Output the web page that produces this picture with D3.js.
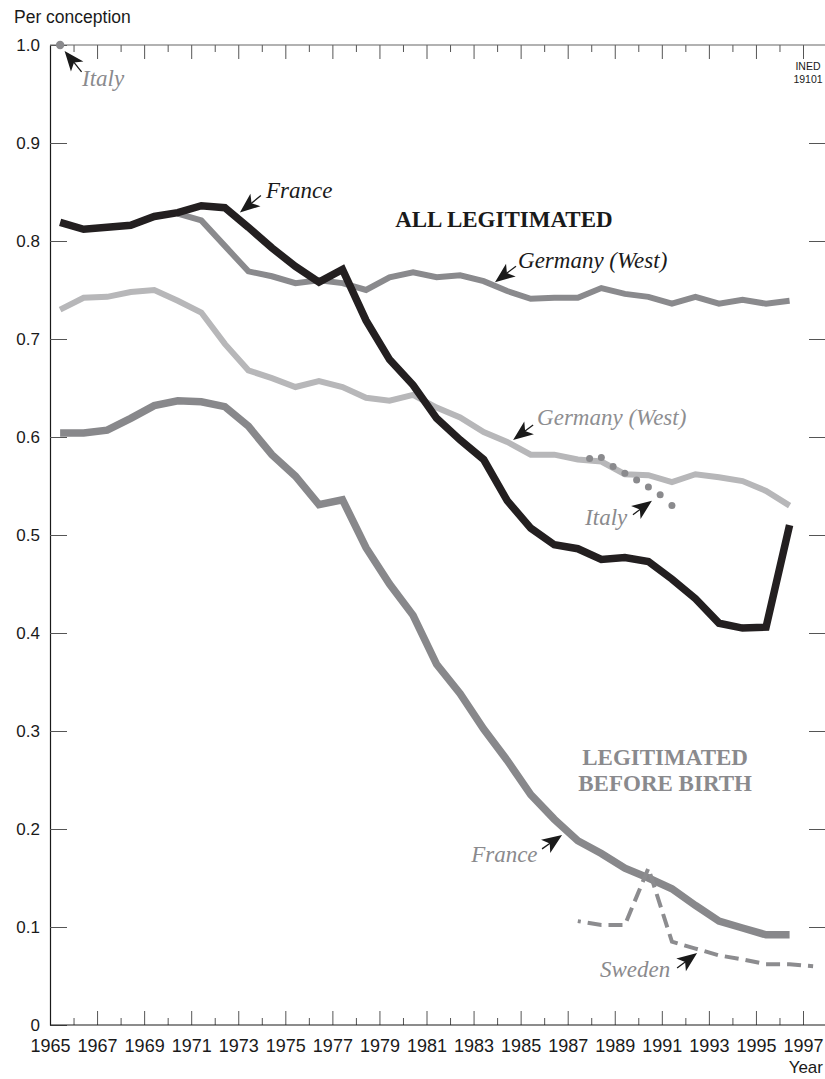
<!DOCTYPE html>
<html>
<head>
<meta charset="utf-8">
<script src="https://cdn.jsdelivr.net/npm/d3@7"></script>
<style>
  body { margin: 0; background: #fff; }
  svg { display: block; }
  text { font-family: "Liberation Sans", Arial, sans-serif; fill: #1a1a1a; }
  text.note { font-family: "Liberation Serif", "Times New Roman", serif; font-style: italic; }
  text.head { font-family: "Liberation Serif", "Times New Roman", serif; font-weight: bold; }
</style>
</head>
<body>
<svg id="chart" width="825" height="1079"></svg>
<script>
// yearly series, 1965..1996 (conceptions), values per conception
const years = d3.range(1965, 1997)

const franceAll = [0.819, 0.812, 0.814, 0.816, 0.825, 0.829, 0.836, 0.834, 0.814, 0.793,
  0.774, 0.758, 0.771, 0.719, 0.679, 0.653, 0.619, 0.597, 0.577, 0.535,
  0.507, 0.490, 0.486, 0.475, 0.477, 0.473, 0.455, 0.435, 0.410, 0.405,
  0.406, 0.510]

// west germany, all legitimated (no visible data before 1970)
const germanyAll = [null, null, null, null, null, 0.828, 0.821, 0.795, 0.769, 0.764,
  0.757, 0.760, 0.757, 0.750, 0.763, 0.768, 0.763, 0.765, 0.759, 0.749,
  0.741, 0.742, 0.742, 0.752, 0.746, 0.743, 0.736, 0.743, 0.736, 0.740,
  0.736, 0.739]

const germanyBefore = [0.730, 0.742, 0.743, 0.748, 0.750, 0.739, 0.727, 0.695, 0.668, 0.660,
  0.651, 0.657, 0.651, 0.640, 0.637, 0.643, 0.630, 0.620, 0.605, 0.595,
  0.582, 0.582, 0.577, 0.575, 0.562, 0.561, 0.554, 0.562, 0.559, 0.555,
  0.545, 0.530]

const franceBefore = [0.604, 0.604, 0.607, 0.619, 0.632, 0.637, 0.636, 0.631, 0.611, 0.582,
  0.560, 0.531, 0.536, 0.487, 0.450, 0.418, 0.368, 0.338, 0.302, 0.270,
  0.235, 0.210, 0.188, 0.175, 0.160, 0.150, 0.139, 0.122, 0.106, 0.099,
  0.092, 0.092]

const swedenYears = d3.range(1987, 1998)
const swedenBefore = [0.106, 0.102, 0.102, 0.160, 0.085, 0.078, 0.071, 0.067, 0.062, 0.062, 0.060]

// italy: one point in 1965, then a dotted stretch 1987-1991
const italyStartYear = [1965]
const italyStart = [1.0]
const italyYears = [1987.5, 1988, 1988.5, 1989, 1989.5, 1990, 1990.5, 1991]
const italyAll = [0.578, 0.579, 0.570, 0.563, 0.556, 0.549, 0.541, 0.530]

const yTicks = d3.range(0, 11).map(d => d / 10)
const xTicks = d3.range(1965, 1998)

const width = 825, height = 1079
const margin = {top: 45, left: 50, bottom: 54}
const OFFSET = 0.43 // points sit a bit inside each year

const svg = d3.select("#chart")

const x = d3.scaleLinear().domain([1965, 1997]).range([margin.left, 803])
const y = d3.scaleLinear().domain([0, 1]).range([height - margin.bottom, margin.top])

const zip = (xs, vs) => xs.map((yr, i) => ({year: yr, value: vs[i]}))

///// AXES /////

const frame = svg.append("g").attr("class", "frame")

// bottom: ticks up, labels on odd years
const bottomAxis = frame.append("g")
  .attr("transform", `translate(0,${y(0)})`)
  .call(d3.axisBottom(x).tickValues(xTicks).tickSizeInner(-14).tickSizeOuter(0)
    .tickPadding(14).tickFormat(d => d % 2 ? d : ""))
bottomAxis.select(".domain").remove()
bottomAxis.selectAll(".tick line")
  .attr("y2", d => d % 2 ? -14 : -7)
  .attr("stroke", "#555")
bottomAxis.selectAll(".tick text")
  .attr("font-size", 18)
  .attr("font-family", "Liberation Sans, Arial, sans-serif")
  .attr("fill", "#1a1a1a")

// top: ticks down
const topAxis = frame.append("g")
  .attr("transform", `translate(0,${y(1)})`)
  .call(d3.axisTop(x).tickValues(xTicks).tickSizeInner(-14).tickSizeOuter(0).tickFormat(""))
topAxis.select(".domain").remove()
topAxis.selectAll(".tick line")
  .attr("y2", d => d % 2 ? 14 : 7)
  .attr("stroke", "#555")

// left
const leftAxis = frame.append("g")
  .attr("transform", `translate(${x(1965)},0)`)
  .call(d3.axisLeft(y).tickValues(yTicks).tickSizeInner(-17).tickSizeOuter(0)
    .tickPadding(10).tickFormat(d => d === 0 ? "0" : d3.format(".1f")(d)))
leftAxis.select(".domain").attr("stroke", "#1a1a1a").attr("stroke-width", 1.2)
leftAxis.selectAll(".tick line").attr("stroke", "#555")
leftAxis.selectAll(".tick text")
  .attr("font-size", 17)
  .attr("font-family", "Liberation Sans, Arial, sans-serif")
  .attr("fill", "#1a1a1a")

// right: ticks only
const rightAxis = frame.append("g")
  .attr("transform", `translate(${width},0)`)
  .call(d3.axisRight(y).tickValues(yTicks.slice(1, -1)).tickSizeInner(-16).tickSizeOuter(0).tickFormat(""))
rightAxis.select(".domain").remove()
rightAxis.selectAll(".tick line").attr("stroke", "#555")

// horizontal frame lines run to the page edge
frame.append("line")
  .attr("x1", x(1965)).attr("x2", width)
  .attr("y1", y(0)).attr("y2", y(0))
  .attr("stroke", "#1a1a1a").attr("stroke-width", 1.2)
frame.append("line")
  .attr("x1", x(1965)).attr("x2", width)
  .attr("y1", y(1)).attr("y2", y(1))
  .attr("stroke", "#666").attr("stroke-width", 1.2)

svg.append("text")
  .attr("x", 14).attr("y", 23)
  .attr("font-size", 17.5)
  .text("Per conception")

svg.append("text")
  .attr("x", width - 2).attr("y", 1073)
  .attr("text-anchor", "end")
  .attr("font-size", 17)
  .text("Year")

svg.append("g")
  .attr("font-size", 10.5)
  .attr("text-anchor", "middle")
  .selectAll("text")
  .data(["INED", "19101"])
  .join("text")
    .attr("x", 808)
    .attr("y", (_, i) => 70 + i * 12.5)
    .text(d => d)

///// LINES /////

const line = d3.line()
  .defined(d => d.value != null)
  .x(d => x(d.year + OFFSET))
  .y(d => y(d.value))

const series = [
  {data: zip(years, germanyBefore), color: "#b7b7b9", width: 6},
  {data: zip(years, franceBefore), color: "#88888b", width: 7.5},
  {data: zip(swedenYears, swedenBefore), color: "#8c8c8f", width: 4, dash: "14,7", offset: 11},
  {data: zip(years, germanyAll), color: "#8a8a8d", width: 6},
  {data: zip(years, franceAll), color: "#231f20", width: 7.5},
]

svg.append("g").attr("class", "lines")
  .selectAll("path")
  .data(series)
  .join("path")
    .attr("d", d => line(d.data))
    .attr("fill", "none")
    .attr("stroke", d => d.color)
    .attr("stroke-width", d => d.width)
    .attr("stroke-dasharray", d => d.dash || null)
    .attr("stroke-dashoffset", d => d.offset || null)
    .attr("stroke-linejoin", "miter")

// italy dots
svg.append("g")
  .attr("fill", "#8a8a8d")
  .selectAll("circle")
  .data(zip(italyYears, italyAll).concat(zip(italyStartYear, italyStart)))
  .join("circle")
    .attr("cx", d => x(d.year + OFFSET))
    .attr("cy", d => y(d.value))
    .attr("r", d => d.year === 1965 ? 4.2 : 3.5)

///// LABELS /////

// tip = where the arrow points, tail given as pixel offset from the tip
const notes = [
  {text: "Italy", year: 1966.36, value: 0.958, color: "#8a8a8d", tip: [1965.62, 0.994], tail: [17, 21]},
  {text: "France", year: 1974.18, value: 0.844, color: "#1a1a1a", tip: [1973.07, 0.829], tail: [21, -17]},
  {text: "Germany (West)", year: 1984.89, value: 0.772, color: "#1a1a1a", tip: [1983.91, 0.758], tail: [21, -16]},
  {text: "Germany (West)", year: 1985.70, value: 0.612, color: "#8e8e91", tip: [1984.68, 0.597], tail: [20, -15]},
  {text: "Italy", year: 1987.74, value: 0.510, color: "#8a8a8d", tip: [1990.58, 0.535], tail: [-19, 14], anchor: "start"},
  {text: "France", year: 1985.72, value: 0.166, color: "#8a8a8d", tip: [1986.76, 0.194], tail: [-20, 14], anchor: "end"},
  {text: "Sweden", year: 1988.37, value: 0.049, color: "#8a8a8d", tip: [1992.50, 0.0735], tail: [-20, 15]},
]

const headings = [
  {lines: ["ALL LEGITIMATED"], year: 1984.29, value: 0.8143, color: "#1a1a1a"},
  {lines: ["LEGITIMATED", "BEFORE BIRTH"], year: 1991.14, value: 0.2653, color: "#8a8a8d"},
]

const labels = svg.append("g").attr("class", "labels")

labels.selectAll("text.note")
  .data(notes)
  .join("text")
    .attr("class", "note")
    .attr("x", d => x(d.year))
    .attr("y", d => y(d.value))
    .attr("text-anchor", d => d.anchor || "start")
    .attr("font-size", 23)
    .style("fill", d => d.color)
    .text(d => d.text)

// arrows: solid dart head with a short hairline stem
const arrows = labels.selectAll("g.arrow")
  .data(notes)
  .join("g")
    .attr("class", "arrow")
    .attr("transform", d => {
      const tx = x(d.tip[0]), ty = y(d.tip[1])
      const ang = Math.atan2(-d.tail[1], -d.tail[0]) * 180 / Math.PI
      return `translate(${tx},${ty}) rotate(${ang})`
    })
arrows.append("line")
  .attr("x1", d => -Math.hypot(d.tail[0], d.tail[1]))
  .attr("x2", -12)
  .attr("stroke", "#1a1a1a")
  .attr("stroke-width", 1.3)
arrows.append("path")
  .attr("d", "M0,0 L-20,-8 L-15,0 L-20,8 Z")
  .attr("fill", "#1a1a1a")

headings.forEach(h => {
  labels.append("text")
    .attr("class", "head")
    .attr("text-anchor", "middle")
    .attr("font-size", 23)
    .style("fill", h.color)
    .selectAll("tspan")
    .data(h.lines)
    .join("tspan")
      .attr("x", x(h.year))
      .attr("y", (_, i) => y(h.value) + i * 26)
      .text(d => d)
})
</script>
</body>
</html>
